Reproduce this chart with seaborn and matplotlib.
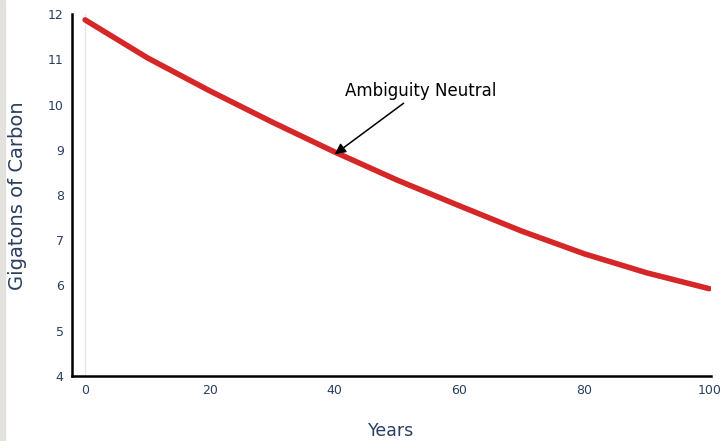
import matplotlib
matplotlib.use("Agg")
import matplotlib.pyplot as plt
import seaborn as sns
import pandas as pd

years = [0, 10, 20, 30, 40, 50, 60, 70, 80, 90, 100]
carbon = [11.87, 11.03, 10.30, 9.61, 8.95, 8.33, 7.76, 7.20, 6.70, 6.28, 5.93]

df = pd.DataFrame({"Years": years, "Gigatons of Carbon": carbon})

sns.set_style("white")
plt.rcParams["font.family"] = ["DejaVu Sans"]

fig = plt.figure(figsize=(7.25, 4.41), dpi=100)
fig.patches.append(plt.Rectangle((0, 0), 5 / 725, 1, transform=fig.transFigure,
                                 color="#e4e2de", zorder=0))
ax = fig.add_axes([72 / 725, 65 / 441, 639 / 725, 362 / 441])

sns.lineplot(data=df, x="Years", y="Gigatons of Carbon", color="#d62728",
             linewidth=4, ax=ax)
ax.axvline(0, color="#e5e5e5", linewidth=1, zorder=0)

ax.set_xlim(-2.1, 100.3)
ax.set_ylim(4, 12)
ax.set_xticks(range(0, 101, 20))
ax.set_yticks(range(4, 13))

tick_col = "#2a3f5f"
ax.tick_params(axis="both", length=0, labelsize=9, labelcolor=tick_col, pad=6)
for s in ["top", "right"]:
    ax.spines[s].set_visible(False)
for s in ["left", "bottom"]:
    ax.spines[s].set_color("black")
    ax.spines[s].set_linewidth(1.8)

ax.set_xlabel("")
ax.set_ylabel("")
fig.text(391 / 725, 1 - 431 / 441, "Years", fontsize=12.5, color=tick_col,
         ha="center", va="center")
fig.text(18 / 725, 1 - 196 / 441, "Gigatons of Carbon", fontsize=14,
         color=tick_col, ha="center", va="center", rotation=90)

ax.annotate("Ambiguity Neutral", xy=(40, 8.9), xytext=(53.7, 10.3),
            fontsize=12, color="black", ha="center", va="center",
            arrowprops=dict(arrowstyle="-|>", color="black", lw=1.1,
                            mutation_scale=16, shrinkA=0, shrinkB=0))

fig.savefig("out.png", dpi=100)
